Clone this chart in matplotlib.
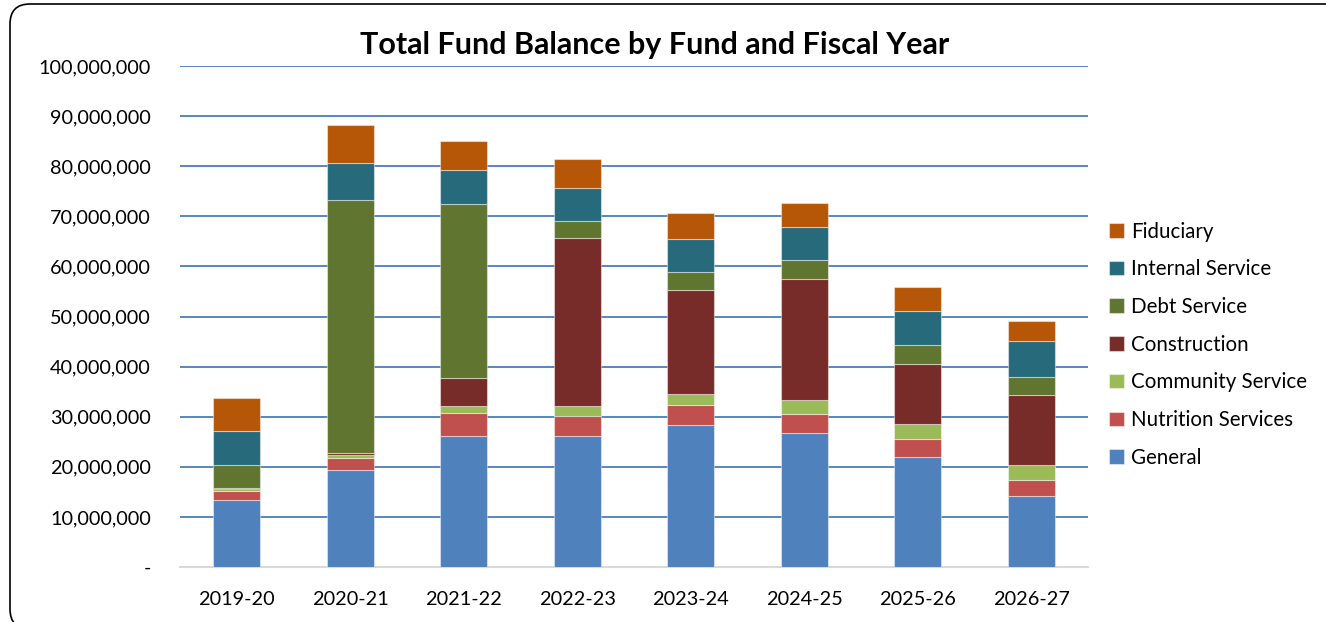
import numpy as np
import matplotlib.pyplot as plt
from matplotlib.patches import FancyBboxPatch
from matplotlib.transforms import IdentityTransform
from matplotlib.ticker import FuncFormatter

plt.rcParams['font.family'] = ['Lato', 'DejaVu Sans']

# Fund balances in millions of dollars
years = ["2019-20", "2020-21", "2021-22", "2022-23", "2023-24", "2024-25", "2025-26", "2026-27"]
funds = ["General", "Nutrition Services", "Community Service", "Construction",
         "Debt Service", "Internal Service", "Fiduciary"]
general = [13.45, 19.45, 26.1, 26.2, 28.4, 26.8, 22.0, 14.2]
nutrition = [1.65, 2.3, 4.6, 4.0, 4.0, 3.8, 3.5, 3.2]
community = [0.4, 0.6, 1.4, 1.9, 2.2, 2.7, 3.0, 3.05]
construction = [0.35, 0.5, 5.6, 33.6, 20.7, 24.1, 12.1, 13.85]
debt = [4.45, 50.35, 34.7, 3.4, 3.5, 3.8, 3.8, 3.6]
internal = [6.75, 7.5, 6.8, 6.6, 6.6, 6.6, 6.7, 7.2]
fiduciary = [6.6, 7.5, 5.9, 5.7, 5.3, 4.9, 4.7, 4.0]
series = [general, nutrition, community, construction, debt, internal, fiduciary]
colors = ["#4F81BD", "#C0504D", "#9BBB59", "#772C2A", "#5F7530", "#276A7C", "#B65708"]

fig = plt.figure(figsize=(13.26, 6.22), dpi=100)
ax = fig.add_axes([180 / 1326, 55 / 622, 908 / 1326, 501 / 622])

# rounded chart border, running off the right and bottom edges
fig.patches.append(FancyBboxPatch((10, -7), 1340, 625,
                                  boxstyle="round,pad=0,rounding_size=20",
                                  transform=IdentityTransform(), fill=False,
                                  edgecolor="black", linewidth=1.2))

x = np.arange(len(years))
bottom = np.zeros(len(years))
handles = []
for name, vals, c in zip(funds, series, colors):
    vals = np.array(vals) * 1e6
    b = ax.bar(x, vals, width=0.41, bottom=bottom, color=c, label=name,
               edgecolor=(1, 1, 1, 0.45), linewidth=0.8, zorder=3)
    handles.append(b)
    bottom += vals

ax.set_xlim(-0.5, len(years) - 0.5)
ax.set_ylim(0, 100e6)
ax.set_yticks(np.arange(0, 100e6 + 1, 10e6))
ax.yaxis.set_major_formatter(FuncFormatter(lambda v, p: "-" if v == 0 else f"{v:,.0f}"))
ax.set_xticks(x)
ax.set_xticklabels(years)
ax.grid(axis="y", color="#4A7EBB", linewidth=1.3, zorder=0)
for s in ["top", "right", "left"]:
    ax.spines[s].set_visible(False)
ax.spines["bottom"].set_color("#D9D9D9")
ax.spines["bottom"].set_linewidth(1.5)
ax.tick_params(axis="both", length=0, labelsize=14.3, colors="black")
ax.tick_params(axis="y", pad=21)
ax.tick_params(axis="x", pad=17)

fig.text(0.494, 0.928, "Total Fund Balance by Fund and Fiscal Year",
         ha="center", va="center", fontsize=22, fontweight="bold")

ax.legend(handles[::-1], funds[::-1], loc="center left", bbox_to_anchor=(1.003, 0.444),
          frameon=False, fontsize=14.8, handlelength=0.7, handleheight=0.7,
          labelspacing=0.86, handletextpad=0.35)

fig.savefig("out.png", dpi=100)
